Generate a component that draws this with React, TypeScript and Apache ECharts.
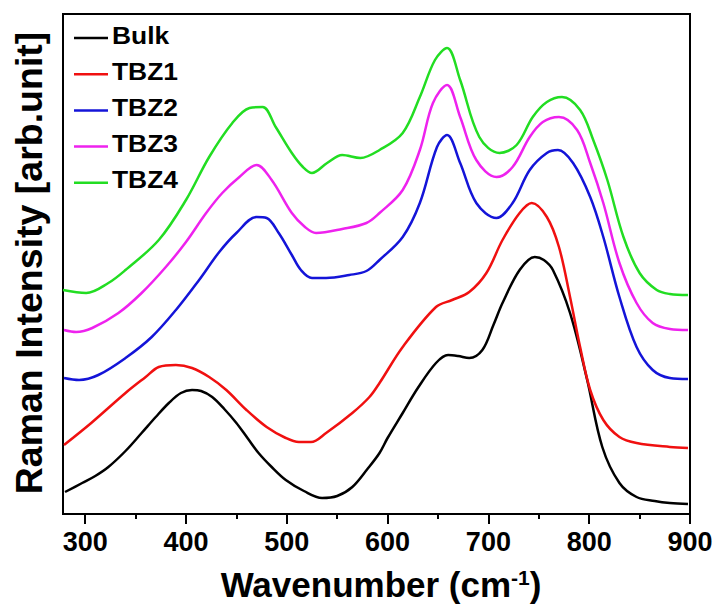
import React, { useEffect, useRef } from "react";
import * as echarts from "echarts";

// Wavenumber (cm-1) / relative intensity (arb. units)
const bulkW = [280, 297, 310, 323, 340, 356, 370, 383, 395, 406, 415, 426, 438, 450, 461, 472, 485, 499, 517, 535, 550, 565, 580, 592, 600, 615, 630, 648, 660, 670, 681, 694, 705, 714, 731, 746, 755, 764, 781, 798, 813, 830, 847, 865, 880, 898];
const bulkV = [22, 31, 38, 47, 63, 81, 97, 111, 121, 124, 123, 117, 105, 91, 76, 61, 47, 34, 23, 16, 18, 27, 45, 61, 76, 101, 126, 151, 159, 158, 156, 164, 189, 211, 244, 257, 254, 244, 201, 134, 67, 31, 17, 13, 11, 10];

const tbz1W = [279, 306, 340, 360, 373, 390, 406, 423, 440, 460, 480, 499, 512, 524, 539, 565, 582, 592, 615, 648, 664, 681, 698, 714, 731, 743, 758, 770, 781, 791, 801, 814, 830, 847, 880, 898];
const tbz1V = [69, 91, 121, 137, 147, 149, 146, 137, 124, 104, 87, 76, 72, 72, 81, 101, 117, 131, 167, 207, 214, 222, 241, 274, 301, 311, 297, 267, 217, 167, 124, 94, 77, 71, 67, 66];

const tbz2W = [279, 294, 313, 340, 366, 390, 413, 433, 450, 470, 480, 492, 505, 514, 525, 539, 562, 579, 592, 615, 632, 649, 659, 672, 688, 708, 724, 741, 758, 769, 784, 801, 814, 830, 847, 863, 880, 898];
const tbz2V = [136, 134, 139, 156, 177, 204, 234, 262, 281, 297, 296, 281, 259, 244, 236, 236, 239, 243, 254, 277, 311, 367, 379, 351, 311, 296, 311, 344, 361, 364, 351, 317, 277, 217, 167, 144, 136, 135];

const tbz3W = [279, 291, 307, 333, 356, 380, 400, 420, 436, 453, 470, 485, 505, 518, 529, 555, 579, 592, 615, 632, 645, 659, 672, 688, 708, 724, 741, 754, 770, 788, 801, 814, 830, 847, 863, 880, 898];
const tbz3V = [184, 182, 186, 201, 221, 247, 272, 301, 321, 337, 349, 334, 301, 287, 281, 285, 291, 301, 324, 364, 411, 429, 397, 354, 337, 347, 377, 392, 397, 384, 351, 311, 251, 211, 191, 185, 184];

const tbz4W = [278, 301, 323, 340, 373, 400, 423, 446, 463, 476, 489, 505, 516, 525, 540, 555, 573, 592, 615, 632, 647, 659, 672, 691, 711, 728, 744, 758, 773, 791, 804, 818, 834, 850, 867, 880, 898];
const tbz4V = [224, 221, 231, 244, 274, 314, 357, 391, 406, 407, 387, 361, 347, 341, 351, 359, 356, 364, 381, 417, 454, 466, 434, 377, 361, 369, 397, 412, 417, 404, 374, 334, 277, 241, 224, 220, 219];

const seriesNames = ["Bulk", "TBZ1", "TBZ2", "TBZ3", "TBZ4"];
const seriesColors = ["#000000", "#f01010", "#1414d8", "#ee22ee", "#22dd22"];
const seriesW = [bulkW, tbz1W, tbz2W, tbz3W, tbz4W];
const seriesV = [bulkV, tbz1V, tbz2V, tbz3V, tbz4V];

const majorTicks = [300, 400, 500, 600, 700, 800, 900];
const minorTicks = [350, 450, 550, 650, 750, 850];

const FONT = "'Liberation Sans', Arial, sans-serif";

export default function App() {
  const ref = useRef<HTMLDivElement>(null);
  useEffect(() => {
    if (!ref.current) return;
    const chart = echarts.init(ref.current, null, { renderer: "svg" });
    const series = seriesNames.map((name, i) => ({
      name,
      type: "line",
      data: seriesW[i].map((w, j) => [w, seriesV[i][j]]),
      showSymbol: false,
      symbol: "none",
      smooth: 0.35,
      lineStyle: { color: seriesColors[i], width: 2.5 },
      itemStyle: { color: seriesColors[i] },
      xAxisIndex: 0,
      yAxisIndex: 0,
    }));
    const legendGraphics: any[] = [];
    seriesNames.forEach((name, i) => {
      const cy = 35 + i * 36.2;
      legendGraphics.push({
        type: "line",
        shape: { x1: 74, y1: cy + 3, x2: 108, y2: cy + 3 },
        style: { stroke: seriesColors[i], lineWidth: 2.5 },
      });
      legendGraphics.push({
        type: "text",
        x: 112,
        y: cy,
        scaleX: 1.1,
        style: {
          text: name,
          fontFamily: FONT,
          fontWeight: "bold",
          fontSize: 24,
          fill: "#000",
          align: "left",
          verticalAlign: "middle",
        },
      });
    });
    chart.setOption({
      animation: false,
      backgroundColor: "#ffffff",
      grid: {
        left: 63,
        right: 27,
        top: 14,
        bottom: 92,
        show: true,
        borderColor: "#000",
        borderWidth: 2,
        containLabel: false,
      },
      xAxis: [
        {
          type: "value",
          min: 278,
          max: 900,
          splitLine: { show: false },
          axisLine: { show: true, lineStyle: { color: "#000", width: 2 } },
          axisTick: { show: true, customValues: majorTicks, length: 10, inside: false, lineStyle: { color: "#000", width: 2 } },
          axisLabel: {
            show: true,
            customValues: majorTicks,
            margin: 14,
            fontFamily: FONT,
            fontWeight: "bold",
            fontSize: 27,
            color: "#000",
          },
        },
        {
          type: "value",
          min: 278,
          max: 900,
          position: "bottom",
          splitLine: { show: false },
          axisLine: { show: false },
          axisTick: { show: true, customValues: minorTicks, length: 5, inside: false, lineStyle: { color: "#000", width: 2 } },
          axisLabel: { show: false },
        },
      ],
      yAxis: {
        type: "value",
        min: 0,
        max: 500,
        splitLine: { show: false },
        axisLine: { show: true, lineStyle: { color: "#000", width: 2 } },
        axisTick: { show: false },
        axisLabel: { show: false },
      },
      graphic: [
        ...legendGraphics,
        {
          type: "text",
          x: 29,
          y: 263,
          rotation: Math.PI / 2,
          style: {
            text: "Raman Intensity [arb.unit]",
            fontFamily: FONT,
            fontWeight: "bold",
            fontSize: 37.5,
            fill: "#000",
            align: "center",
            verticalAlign: "middle",
          },
        },
        {
          type: "text",
          x: 381,
          y: 584,
          style: {
            text: "Wavenumber (cm{sup|-1})",
            fontFamily: FONT,
            fontWeight: "bold",
            fontSize: 35,
            fill: "#000",
            align: "center",
            verticalAlign: "middle",
            rich: {
              sup: {
                fontFamily: FONT,
                fontWeight: "bold",
                fontSize: 21,
                fill: "#000",
                verticalAlign: "top",
                padding: [0, 0, 14, 0],
              },
            },
          },
        },
      ],
      series,
    });
    return () => chart.dispose();
  }, []);
  return <div ref={ref} style={{ width: 717, height: 606, position: "absolute", left: 0, top: 0 }} />;
}
